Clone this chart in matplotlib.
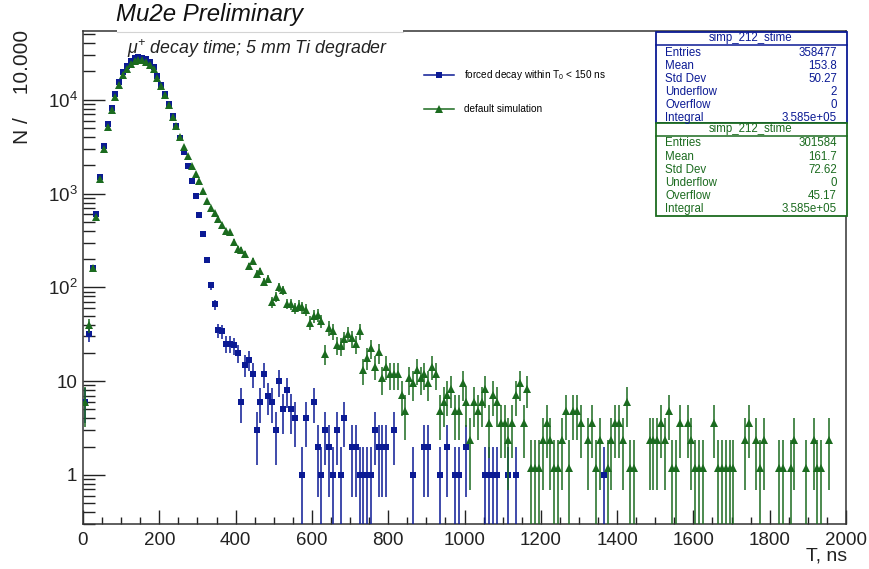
import numpy as np
import matplotlib.pyplot as plt
from matplotlib.lines import Line2D
from matplotlib.patches import Rectangle
from matplotlib.ticker import LogLocator, MultipleLocator, NullFormatter

plt.rcParams['font.family'] = ['Liberation Sans', 'DejaVu Sans']
plt.rcParams['mathtext.default'] = 'regular'

# bin centres (10 ns bins) and contents; empty bins are left out
blue_t = [5, 15, 25, 35, 45, 55, 65, 75, 85, 95, 105, 115, 125, 135, 145, 155,
          165, 175, 185, 195, 205, 215, 225, 235, 245, 255, 265, 275, 285, 295,
          305, 315, 325, 335, 345, 355, 365, 375, 385, 395, 405, 415, 425, 435,
          445, 455, 465, 475, 485, 495, 505, 515, 525, 535, 545, 555, 575, 585,
          605, 615, 625, 635, 645, 655, 665, 675, 685, 705, 715, 725, 735, 745,
          755, 765, 775, 785, 795, 815, 865, 895, 905, 935, 955, 975, 985, 1005,
          1055, 1065, 1075, 1085, 1115, 1135, 1365]
blue_n = [6, 32, 160, 600, 1500, 3200, 5500, 8200, 11500, 15500, 19500, 23000,
          26000, 27500, 28500, 28000, 27000, 25000, 22500, 18000, 14500, 11500,
          9000, 6700, 5300, 3950, 2800, 1950, 1350, 940, 590, 372, 195, 105, 66,
          35, 34, 25, 25, 24, 20, 6, 15, 17, 12, 3, 6, 12, 7, 6, 3, 10, 5, 8, 5,
          4, 1, 4, 6, 2, 1, 3, 2, 1, 3, 1, 4, 2, 2, 1, 1, 1, 1, 3, 2, 2, 2, 3, 1,
          2, 2, 1, 2, 1, 1, 2, 1, 1, 1, 1, 1, 1, 1]

green_t = [5, 15, 25, 35, 45, 55, 65, 75, 85, 95, 105, 115, 125, 135, 145, 155,
           165, 175, 185, 195, 205, 215, 225, 235, 245, 255, 265, 275, 285, 295,
           305, 315, 325, 335, 345, 355, 365, 375, 385, 395, 405, 415, 425, 435,
           445, 455, 465, 475, 485, 495, 505, 515, 525, 535, 545, 555, 565, 575,
           585, 595, 605, 615, 625, 635, 645, 655, 665, 675, 685, 695, 705, 715,
           725, 735, 745, 755, 765, 775, 785, 795, 805, 815, 825, 835, 845, 855,
           865, 875, 885, 895, 905, 915, 925, 935, 945, 955, 965, 975, 985, 995,
           1005, 1015, 1025, 1035, 1045, 1055, 1065, 1075, 1085, 1095, 1105,
           1115, 1125, 1135, 1145, 1155, 1165, 1175, 1185, 1195, 1205, 1215,
           1225, 1235, 1245, 1255, 1265, 1275, 1285, 1295, 1305, 1325, 1335,
           1345, 1355, 1375, 1385, 1395, 1405, 1415, 1425, 1435, 1445, 1485,
           1495, 1505, 1515, 1525, 1535, 1545, 1555, 1565, 1585, 1595, 1605,
           1615, 1625, 1655, 1665, 1675, 1685, 1695, 1705, 1735, 1745, 1765,
           1775, 1785, 1825, 1835, 1855, 1865, 1895, 1915, 1925, 1935, 1955]
green_n = [5.94, 39.2, 160, 560, 1420, 3000, 5100, 7700, 10800, 14500, 18300,
           21500, 24300, 25800, 26500, 26300, 25400, 23600, 21200, 17200, 14000,
           11200, 8800, 6600, 5200, 4000, 3100, 2500, 1950, 1620, 1350, 1070,
           830, 700, 620, 535, 460, 400, 385, 305, 258, 250, 225, 168, 190, 140,
           148, 115, 122, 69, 79, 101, 93, 67, 66, 60, 64, 61, 58, 42, 49, 51,
           44, 19.6, 37, 34, 24.5, 23.7, 28, 32, 28.6, 25, 34, 13.1, 17.8, 22.6,
           14.3, 20.2, 10.7, 14.3, 11.9, 11.9, 11.9, 7.13, 4.75, 10.7, 9.51,
           13.1, 10.7, 11.9, 9.51, 14.3, 11.9, 4.75, 5.94, 7.13, 8.32, 4.75,
           4.75, 9.51, 5.94, 2.38, 5.94, 4.75, 5.94, 8.32, 3.57, 7.13, 5.94,
           3.57, 3.57, 2.38, 3.57, 7.13, 9.51, 3.57, 8.32, 1.19, 1.19, 1.19,
           2.38, 3.57, 2.38, 1.19, 1.19, 2.38, 4.75, 1.19, 4.75, 4.75, 3.57,
           2.38, 3.57, 1.19, 2.38, 1.19, 2.38, 3.57, 3.57, 2.38, 5.94, 1.19,
           1.19, 2.38, 2.38, 2.38, 3.57, 2.38, 4.75, 1.19, 1.19, 3.57, 3.57,
           2.38, 1.19, 1.19, 1.19, 3.57, 1.19, 1.19, 1.19, 1.19, 1.19, 2.38,
           3.57, 2.38, 1.19, 2.38, 1.19, 1.19, 1.19, 2.38, 1.19, 2.38, 1.19,
           1.19, 2.38]

blue_stats = [("Entries", "358477"), ("Mean", "153.8"), ("Std Dev", "50.27"),
              ("Underflow", "2"), ("Overflow", "0"), ("Integral", "3.585e+05")]
green_stats = [("Entries", "301584"), ("Mean", "161.7"), ("Std Dev", "72.62"),
               ("Underflow", "0"), ("Overflow", "45.17"), ("Integral", "3.585e+05")]
green_scale = 3.585e5 / 301584

BLUE = '#0b1a94'
GREEN = '#1b6b1f'
W, H = 869, 569


def fx(px):
    return px / W


def fy(py):
    return 1 - py / H


fig = plt.figure(figsize=(8.69, 5.69), dpi=100)
ax = fig.add_axes([fx(83), fy(524), fx(846 - 83), (524 - 31) / H])
ax.set_yscale('log')
ax.set_xlim(0, 2000)
ax.set_ylim(0.3, 54000)

ax.text(fx(127), fy(49), r"$\mu^{+}$ decay time; 5 mm Ti degrader",
        transform=fig.transFigure, fontsize=12.8, style='italic',
        color='#222222', va='center', zorder=1)

# poisson errors
bt = np.array(blue_t)
bn = np.array(blue_n, dtype=float)
berr = np.sqrt(bn)
gt = np.array(green_t)
gn = np.array(green_n)
gerr = np.sqrt(gn * green_scale)

ax.errorbar(bt, bn, yerr=berr, fmt='s', color=BLUE, ms=4.8, mew=0,
            ecolor=BLUE, elinewidth=1.1, capsize=0, zorder=3)
ax.errorbar(gt, gn, yerr=gerr, fmt='^', color=GREEN, ms=5.6, mew=0,
            ecolor=GREEN, elinewidth=1.1, capsize=0, zorder=4)

ax.xaxis.set_major_locator(MultipleLocator(200))
ax.xaxis.set_minor_locator(MultipleLocator(50))
ax.set_yticks([1, 10, 100, 1000, 10000])
ax.set_yticklabels(['1', '10', '$10^{2}$', '$10^{3}$', '$10^{4}$'])
ax.yaxis.set_minor_locator(LogLocator(base=10, subs=np.arange(2, 10)))
ax.yaxis.set_minor_formatter(NullFormatter())

ax.tick_params(axis='x', which='major', direction='in', length=10, width=1,
               labelsize=13.5, pad=6, colors='#222222')
ax.tick_params(axis='x', which='minor', direction='in', length=5, width=1,
               colors='#222222')
ax.tick_params(axis='y', which='major', direction='in', length=16, width=1,
               labelsize=13.5, pad=4, colors='#222222')
ax.tick_params(axis='y', which='minor', direction='in', length=8.5, width=1,
               colors='#222222')
for s in ax.spines.values():
    s.set_color('#333333')
    s.set_linewidth(1.1)

fig.text(fx(847), fy(556), "T, ns", ha='right', va='center', fontsize=14,
         color='#222222')
fig.text(fx(23), fy(30), "N /    10.000", rotation=90, ha='center', va='top',
         fontsize=15, color='#222222')

# title box sitting on top of the frame
fig.patches.append(Rectangle((fx(117), fy(32)), fx(403 - 117), 32 / H,
                             transform=fig.transFigure, facecolor='white',
                             edgecolor='none', zorder=5))
fig.lines.append(Line2D([fx(117), fx(403)], [fy(32)] * 2,
                        transform=fig.transFigure, color='#d4d4d4', lw=0.8,
                        zorder=6))
fig.text(fx(116), fy(15), "Mu2e Preliminary", fontsize=17.3, style='italic',
         ha='left', va='center', color='#111111', zorder=6)

# legend
handles = [Line2D([], [], color=BLUE, marker='s', ms=4.8, lw=1.1, mew=0),
           Line2D([], [], color=GREEN, marker='^', ms=5.6, lw=1.1, mew=0)]
labels = ["forced decay within T$_{0}$ < 150 ns", "default simulation"]
fig.legend(handles, labels, loc='upper left', bbox_to_anchor=(fx(424), fy(68)),
           frameon=False, fontsize=7.2, handlelength=3.0, handletextpad=1.0,
           labelspacing=2.2, borderpad=0, borderaxespad=0)


def stats_box(top, bottom, color, rows):
    fig.patches.append(Rectangle((fx(656), fy(bottom)), fx(847 - 656),
                                 (bottom - top) / H, transform=fig.transFigure,
                                 facecolor='white', edgecolor=color,
                                 linewidth=1.3, zorder=5))
    fig.lines.append(Line2D([fx(656), fx(847)], [fy(top + 12.5)] * 2,
                            transform=fig.transFigure, color=color, lw=1.1,
                            zorder=6))
    fig.text(fx(751), fy(top + 6), "simp_212_stime", ha='center',
             va='center', fontsize=8.3, color=color, zorder=7)
    for i, (name, val) in enumerate(rows):
        yy = top + 20.5 + 13.1 * i
        fig.text(fx(665), fy(yy), name, ha='left', va='center', fontsize=8.3,
                 color=color, zorder=7)
        fig.text(fx(837), fy(yy), val, ha='right', va='center', fontsize=8.3,
                 color=color, zorder=7)


stats_box(32, 123, BLUE, blue_stats)
stats_box(123, 216, GREEN, green_stats)

fig.savefig('out.png', dpi=100)
